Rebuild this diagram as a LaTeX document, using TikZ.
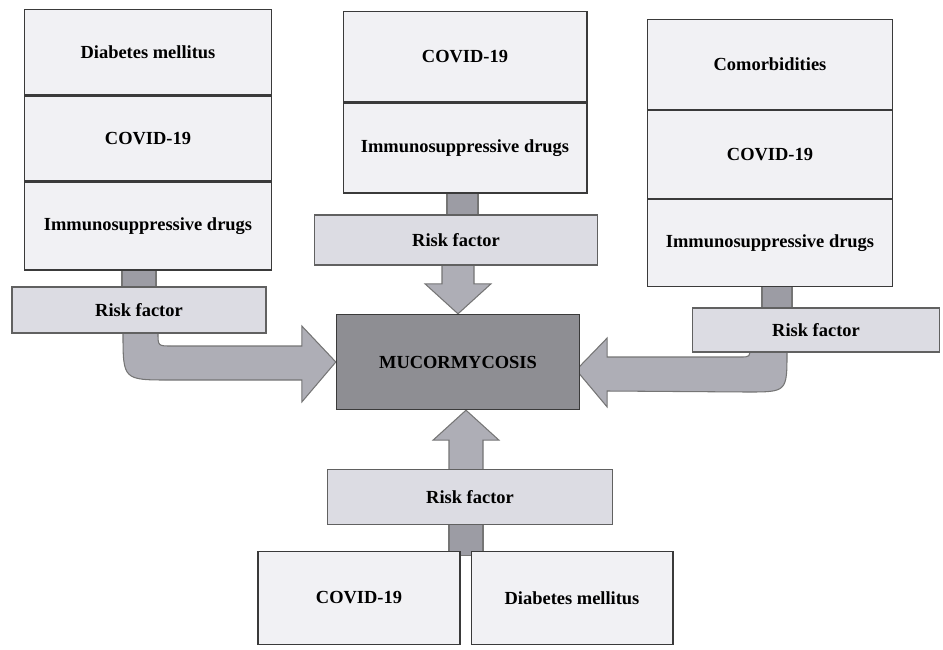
\documentclass[tikz,border=0pt]{standalone}
\usepackage{fontspec}
\setmainfont{Liberation Serif}
\usepackage{tikz}
\usetikzlibrary{calc,backgrounds,positioning}

\definecolor{boxfill}{HTML}{F1F1F4}
\definecolor{riskfill}{HTML}{DCDCE3}
\definecolor{shaftfill}{HTML}{AEAEB6}
\definecolor{stemfill}{HTML}{9C9CA4}
\definecolor{mucfill}{HTML}{8E8E93}
\definecolor{edge}{HTML}{3A3A3A}

\begin{document}
\begin{tikzpicture}[x=0.02cm, y=-0.02cm, node distance = 0mm,
  cell/.style args = {#1,#2}{draw=edge, fill=boxfill, line width=0.6pt, inner sep=0pt, minimum width=#1, minimum height=#2, font=\fontsize{10.5}{12}\selectfont\bfseries},
  risk/.style args = {#1,#2}{draw=edge!80, fill=riskfill, line width=0.6pt, inner sep=0pt, minimum width=#1, minimum height=#2, font=\fontsize{10.5}{12}\selectfont\bfseries},
  shaft/.style = {draw=edge!70, fill=shaftfill, line width=0.6pt},
  stem/.style = {draw=edge!70, fill=stemfill, line width=0.6pt}]
\useasboundingbox (0,0) rectangle (943,649);

\node (lImm) [cell={4.94cm,1.76cm}] at (148,226) {Immunosuppressive drugs};
\node (lCov) [cell={4.94cm,1.7cm}, above=of lImm.north] {COVID-19};
\node (lDia) [cell={4.94cm,1.7cm}, above=of lCov.north] {Diabetes mellitus};
\node (lRisk) [risk={5.08cm,0.92cm}] at (139,310) {Risk factor};

\node (mImm) [cell={4.88cm,1.8cm}] at (465,148) {Immunosuppressive drugs};
\node (mCov) [cell={4.88cm,1.8cm}, above=of mImm.north] {COVID-19};
\node (mRisk) [risk={5.66cm,1.0cm}] at (456,240) {Risk factor};

\node (rImm) [cell={4.9cm,1.74cm}] at (770,243) {Immunosuppressive drugs};
\node (rCov) [cell={4.9cm,1.76cm}, above=of rImm.north] {COVID-19};
\node (rCom) [cell={4.9cm,1.8cm}, above=of rCov.north] {Comorbidities};
\node (rRisk) [risk={4.94cm,0.88cm}] at (816,330) {Risk factor};

\node (muc) [draw=edge, fill=mucfill, line width=0.8pt, minimum width=4.86cm, minimum height=1.9cm, font=\fontsize{10.5}{12}\selectfont\bfseries] at (458,362) {MUCORMYCOSIS};

\node (bRisk) [risk={5.7cm,1.1cm}] at (470,497) {Risk factor};
\node (bCov) [cell={4.04cm,1.86cm}] at (359,598) {COVID-19};
\node (bDia) [cell={4.04cm,1.86cm}, right=2mm of bCov] {Diabetes mellitus};

\begin{scope}[on background layer]
% stems
\filldraw[stem] ($(lRisk.north)+(-17,-25)$) rectangle ($(lRisk.north)+(17,5)$);
\filldraw[stem] ($(mImm.south)+(-18,-5)$) rectangle ($(mImm.south)+(13,25)$);
\filldraw[stem] ($(rImm.south)+(-8,-5)$) rectangle ($(rImm.south)+(22,25)$);

% arrows into muc
\filldraw[shaft] (123,315) -- (158,315) -- (158,333) .. controls (158,346) .. (172,346)
  -- ($(muc.west)+(-34,-16)$) -- ($(muc.west)+(-34,-36)$) -- (muc.west)
  -- ($(muc.west)+(-34,40)$) -- ($(muc.west)+(-34,18)$) -- (170,380)
  .. controls (123,380) .. (123,333) -- cycle;

\coordinate (rTip) at ($(muc.east)+(-4,8)$);
\filldraw[shaft] (750,320) -- (787,320) -- (787,352) .. controls (787,392) .. (747,392)
  -- ($(rTip)+(31,21)$) -- ($(rTip)+(31,37)$) -- (rTip)
  -- ($(rTip)+(31,-32)$) -- ($(rTip)+(31,-13)$) -- (740,357)
  .. controls (750,357) .. (750,347) -- cycle;

\filldraw[shaft] ($(muc.north)+(-16,-80)$) -- ($(muc.north)+(-16,-30)$) -- ($(muc.north)+(-33,-30)$)
  -- (muc.north) -- ($(muc.north)+(33,-30)$) -- ($(muc.north)+(16,-30)$) -- ($(muc.north)+(16,-80)$) -- cycle;

\coordinate (bTip) at ($(muc.south)+(8,0)$);
\filldraw[shaft] ($(bTip)+(-17,100)$) -- ($(bTip)+(-17,30)$) -- ($(bTip)+(-33,30)$)
  -- (bTip) -- ($(bTip)+(33,30)$) -- ($(bTip)+(17,30)$) -- ($(bTip)+(17,100)$) -- cycle;
\filldraw[stem] ($(bTip)+(-17,105)$) rectangle ($(bTip)+(17,145)$);
\end{scope}
\end{tikzpicture}
\end{document}
